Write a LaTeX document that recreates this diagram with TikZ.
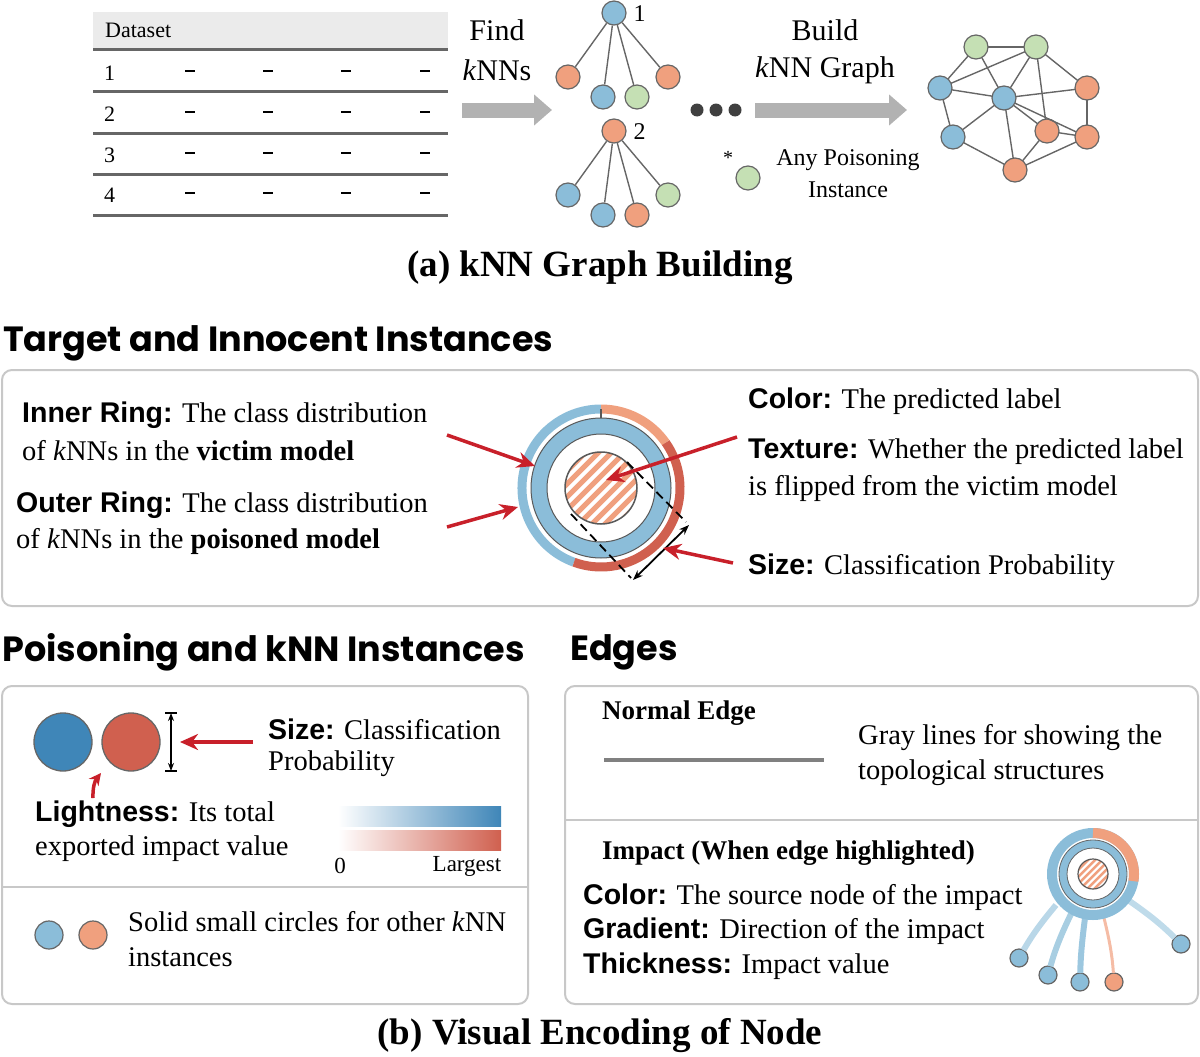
\documentclass[tikz,border=0pt]{standalone}
\usepackage{fontspec}
\setmainfont{Liberation Serif}
\newfontfamily\sfb{Liberation Sans}
\newfontfamily\hdf{Poppins}
\usetikzlibrary{arrows.meta}
\definecolor{cb}{HTML}{8BBDD9}
\definecolor{co}{HTML}{F0A07E}
\definecolor{cg}{HTML}{C5E0B4}
\definecolor{cr}{HTML}{D0604F}
\definecolor{cdb}{HTML}{3F86B8}
\definecolor{ar}{HTML}{C8202A}
\definecolor{bx}{HTML}{C8C8C8}
\tikzset{
 nd/.style={circle,draw=black!60,line width=1.2pt,minimum size=24pt,inner sep=0pt},
 ed/.style={draw=black!60,line width=1.4pt},
 tx/.style={anchor=west,inner sep=0pt,font=\fontsize{28.5}{30}\selectfont},
 hd/.style={anchor=west,inner sep=0pt,font=\hdf\bfseries\fontsize{35}{38}\selectfont},
 box/.style={draw=bx,line width=2pt,rounded corners=10pt},
 garr/.style={draw=black!30,line width=15pt,-{Triangle[length=18pt,width=30pt]}},
 rarr/.style={draw=ar,line width=3.5pt,-{Stealth[length=18pt,width=16pt]}},
 dsh/.style={black,line width=1.8pt,dash pattern=on 9pt off 5pt},
}
\begin{document}
\begin{tikzpicture}[x=1pt,y=-1pt]
\useasboundingbox (0,0) rectangle (1200,1057);
% ---- table
\fill[black!8] (93,12) rectangle (448,48);
\node[tx,font=\fontsize{22}{24}\selectfont] (ds) at (105,30) {Dataset};
\foreach \y in {50,92,133,174,215} \draw[black!60,line width=3pt] (93,\y) -- (448,\y);
\foreach \r/\y in {1/73,2/114,3/155,4/195}{
 \node[tx,font=\fontsize{22}{24}\selectfont] (r\r) at (104,\y) {\r};
 \foreach \x in {190,268,346,425} \draw[black,line width=2pt] (\x-5,\y-2) -- (\x+5,\y-2);}
\node[font=\fontsize{30}{32}\selectfont] (find) at (497,30) {Find};
\node[font=\fontsize{30}{32}\selectfont] (knns) at (497,70) {\textit{k}NNs};
\coordinate (a1s) at (462,110); \coordinate (a1e) at (552,110);
\draw[garr] (a1s) -- (a1e);
% trees
\foreach \t/\dy/\rc/\ca/\cb/\cc/\cd in {1/0/cb/co/cb/cg/co,2/118/co/cb/cb/co/cg}{
 \node[nd,fill=\rc] (t\t r) at (614,13+\dy) {};
 \node[anchor=west,font=\fontsize{24}{26}\selectfont] (t\t l) at (630,14+\dy) {\t};
 \node[nd,fill=\ca] (t\t a) at (568,77+\dy) {};
 \node[nd,fill=\cb] (t\t b) at (603,97+\dy) {};
 \node[nd,fill=\cc] (t\t c) at (637,97+\dy) {};
 \node[nd,fill=\cd] (t\t d) at (668,77+\dy) {};
 \foreach \k in {a,b,c,d} \draw[ed] (t\t r) -- (t\t\k);}
\foreach \i/\x in {1/697,2/716,3/735} \fill[black!75] (\x,110) circle (6.5) coordinate (dot\i);
\node[font=\fontsize{30}{32}\selectfont] (build) at (825,30) {Build};
\node[font=\fontsize{30}{32}\selectfont] (kg) at (825,70) {\textit{k}NN Graph};
\coordinate (a2s) at (755,110); \coordinate (a2e) at (907,110);
\draw[garr] (a2s) -- (a2e);
\node[font=\fontsize{20}{22}\selectfont] (star) at (728,158) {*};
\node[nd,fill=cg] (pg) at (748,178) {};
\node[font=\fontsize{24}{26}\selectfont] (ap) at (848,160) {Any Poisoning};
\node[font=\fontsize{24}{26}\selectfont] (ai) at (848,190) {Instance};
% graph
\node[nd,fill=cg] (g1) at (976,47) {};
\node[nd,fill=cg] (g2) at (1036,47) {};
\node[nd,fill=cb] (b1) at (940,88) {};
\node[nd,fill=cb] (b2) at (1004,98) {};
\node[nd,fill=co] (o1) at (1087,88) {};
\node[nd,fill=cb] (b3) at (953,137) {};
\node[nd,fill=co] (o2) at (1047,131) {};
\node[nd,fill=co] (o3) at (1087,137) {};
\node[nd,fill=co] (o4) at (1015,170) {};
\foreach \a/\b in {g1/g2,g1/b1,g1/b2,b1/g2,g2/b2,g2/o1,g2/o2,b1/b2,b1/b3,b2/o1,b2/b3,b2/o2,b2/o3,b2/o4,o1/o3,o2/o3,o2/o4,o3/o4,b3/o4}
 \draw[ed,shorten <=12pt,shorten >=12pt] (\a.center) -- (\b.center);
\node[font=\bfseries\fontsize{37}{40}\selectfont] (ta) at (600,268) {(a) kNN Graph Building};
% ---- target section
\node[hd] (h1) at (3,343) {Target and Innocent Instances};
\draw[box] (2,370) rectangle (1198,606);
\coordinate (c) at (601,488);
\draw[cb,line width=9pt] (110:79) ++(601,488) arc[start angle=110,end angle=270,radius=79];
\draw[co,line width=9pt] (270:79) ++(601,488) arc[start angle=270,end angle=325,radius=79];
\draw[cr,line width=9pt] (325:79) ++(601,488) arc[start angle=325,end angle=470,radius=79];
\draw[black!65,line width=1pt,fill=cb,even odd rule] (c) circle (70) (c) circle (54);
\draw[black!65,line width=1.5pt] (601,409) -- (601,418);
\begin{scope}\clip (c) circle (36);
\fill[white] (c) circle (36);
\foreach \i in {-90,-77,...,90} \draw[co,line width=5pt,shift={(601,488)}] (\i-50,50) -- (\i+50,-50);
\end{scope}
\draw[black!65,line width=1.5pt] (c) circle (36);
\coordinate (d1s) at (627,462); \coordinate (d1e) at (686,522);
\coordinate (d2s) at (571,514); \coordinate (d2e) at (631,578);
\draw[dsh] (d1s) -- (d1e);
\draw[dsh] (d2s) -- (d2e);
\coordinate (s1) at (689,525); \coordinate (s2) at (633,580);
\draw[black,line width=1.8pt,{Stealth[length=10pt]}-{Stealth[length=10pt]}] (s1) -- (s2);
\coordinate (p1) at (447,435); \coordinate (q1) at (535,466);
\coordinate (p2) at (447,527); \coordinate (q2) at (518,507);
\coordinate (p3) at (737,437); \coordinate (q3) at (606,480);
\coordinate (p4) at (733,563); \coordinate (q4) at (663,548);
\foreach \i in {1,...,4} \draw[rarr] (p\i) -- (q\i);
\node[tx] (ir) at (22,415) {{\sfb\bfseries Inner Ring:} The class distribution};
\node[tx] (ir2) at (22,451) {of \textit{k}NNs in the \textbf{victim model}};
\node[tx] (or) at (16,505) {{\sfb\bfseries Outer Ring:} The class distribution};
\node[tx] (or2) at (16,541) {of \textit{k}NNs in the \textbf{poisoned model}};
\node[tx] (col) at (748,401) {{\sfb\bfseries Color:} The predicted label};
\node[tx] (tex) at (748,452) {{\sfb\bfseries Texture:} Whether the predicted label};
\node[tx] (tex2) at (748,488) {is flipped from the victim model};
\node[tx] (siz) at (748,567) {{\sfb\bfseries Size:} Classification Probability};
% ---- poisoning section
\node[hd] (h2) at (2,652) {Poisoning and kNN Instances};
\node[hd] (h3) at (570,652) {Edges};
\draw[box] (2,686) rectangle (528,1004);
\draw[bx,line width=2pt] (2,887) -- (528,887);
\node[circle,draw=black!60,line width=1.3pt,fill=cdb,minimum size=58pt] (pb) at (63,742) {};
\node[circle,draw=black!60,line width=1.3pt,fill=cr,minimum size=58pt] (pr) at (131,742) {};
\coordinate (bt) at (171,713); \coordinate (bb) at (171,771);
\draw[black,line width=1.5pt,{Stealth[length=8pt]}-{Stealth[length=8pt]}] (bt) -- (bb);
\draw[black,line width=1.5pt] (165,713) -- (177,713) (165,771) -- (177,771);
\coordinate (pa) at (253,742); \coordinate (pe) at (180,742);
\draw[rarr] (pa) -- (pe);
\coordinate (la) at (93,798); \coordinate (le) at (101,773);
\draw[ar,line width=3.5pt,-{Stealth[length=12pt,width=12pt]}] (la) to[bend left=20] (le);
\node[tx] (sz) at (268,729) {{\sfb\bfseries Size:} Classification};
\node[tx] (pr2) at (268,764) {Probability};
\node[tx] (lt) at (35,814) {{\sfb\bfseries Lightness:} Its total};
\node[tx] (lt2) at (35,849) {exported impact value};
\shade[left color=white,right color=cdb] (338,806) rectangle (501,826);
\shade[left color=white,right color=cr] (338,830) rectangle (501,850);
\node[font=\fontsize{23}{24}\selectfont] (z0) at (340,866) {0};
\node[font=\fontsize{23}{24}\selectfont] (lg) at (467,866) {Largest};
\node[nd,fill=cb,minimum size=28pt] (sb) at (49,935) {};
\node[nd,fill=co,minimum size=28pt] (so) at (93,935) {};
\node[tx] (sc) at (128,922) {Solid small circles for other \textit{k}NN};
\node[tx] (sc2) at (128,957) {instances};
% ---- edges section
\draw[box] (565,686) rectangle (1198,1004);
\draw[bx,line width=2pt] (565,820) -- (1198,820);
\node[tx,font=\bfseries\fontsize{27}{28}\selectfont] (ne) at (602,713) {Normal Edge};
\coordinate (n1) at (604,760); \coordinate (n2) at (824,760);
\draw[black!50,line width=4pt] (n1) -- (n2);
\node[tx] (gl) at (858,738) {Gray lines for showing the};
\node[tx] (gl2) at (858,773) {topological structures};
\node[tx,font=\bfseries\fontsize{27}{28}\selectfont] (im) at (602,853) {Impact (When edge highlighted)};
\node[tx] (ic) at (583,897) {{\sfb\bfseries Color:} The source node of the impact};
\node[tx] (ig) at (583,931) {{\sfb\bfseries Gradient:} Direction of the impact};
\node[tx] (it) at (583,966) {{\sfb\bfseries Thickness:} Impact value};
\coordinate (gc) at (1093,874);
\node[nd,fill=cb,minimum size=18pt] (e1) at (1019,958) {};
\node[nd,fill=cb,minimum size=18pt] (e2) at (1048,975) {};
\node[nd,fill=cb,minimum size=18pt] (e3) at (1080,982) {};
\node[nd,fill=co,minimum size=18pt] (e4) at (1114,982) {};
\node[nd,fill=cb,minimum size=18pt] (e5) at (1181,944) {};
\draw[cb!60,line width=6pt,shorten >=9pt] (1056,905) to[bend right=5] (e1.center);
\draw[cb!75,line width=6pt,shorten >=9pt] (1071,914) to[bend right=5] (e2.center);
\draw[cb!85,line width=6pt,shorten >=9pt] (1085,918) to[bend right=3] (e3.center);
\draw[co!70,line width=3pt,shorten >=9pt] (1104,918) to[bend left=5] (e4.center);
\draw[cb!55,line width=6pt,shorten >=9pt] (1128,900) to[bend left=5] (e5.center);
\draw[cb,line width=10pt] (gc) circle (41);
\draw[co,line width=10pt] (270:41) ++(1093,874) arc[start angle=270,end angle=370,radius=41];
\draw[black!60,line width=0.8pt,fill=cb,even odd rule] (gc) circle (34) (gc) circle (26);
\begin{scope}\clip (gc) circle (15);
\fill[white] (gc) circle (15);
\foreach \i in {-40,-33,...,40} \draw[co,line width=2.5pt,shift={(1093,874)}] (\i-20,20) -- (\i+20,-20);
\end{scope}
\draw[black!65,line width=1.2pt] (gc) circle (15);
\node[font=\bfseries\fontsize{37}{40}\selectfont] (tb) at (600,1036) {(b) Visual Encoding of Node};
\end{tikzpicture}
\end{document}
